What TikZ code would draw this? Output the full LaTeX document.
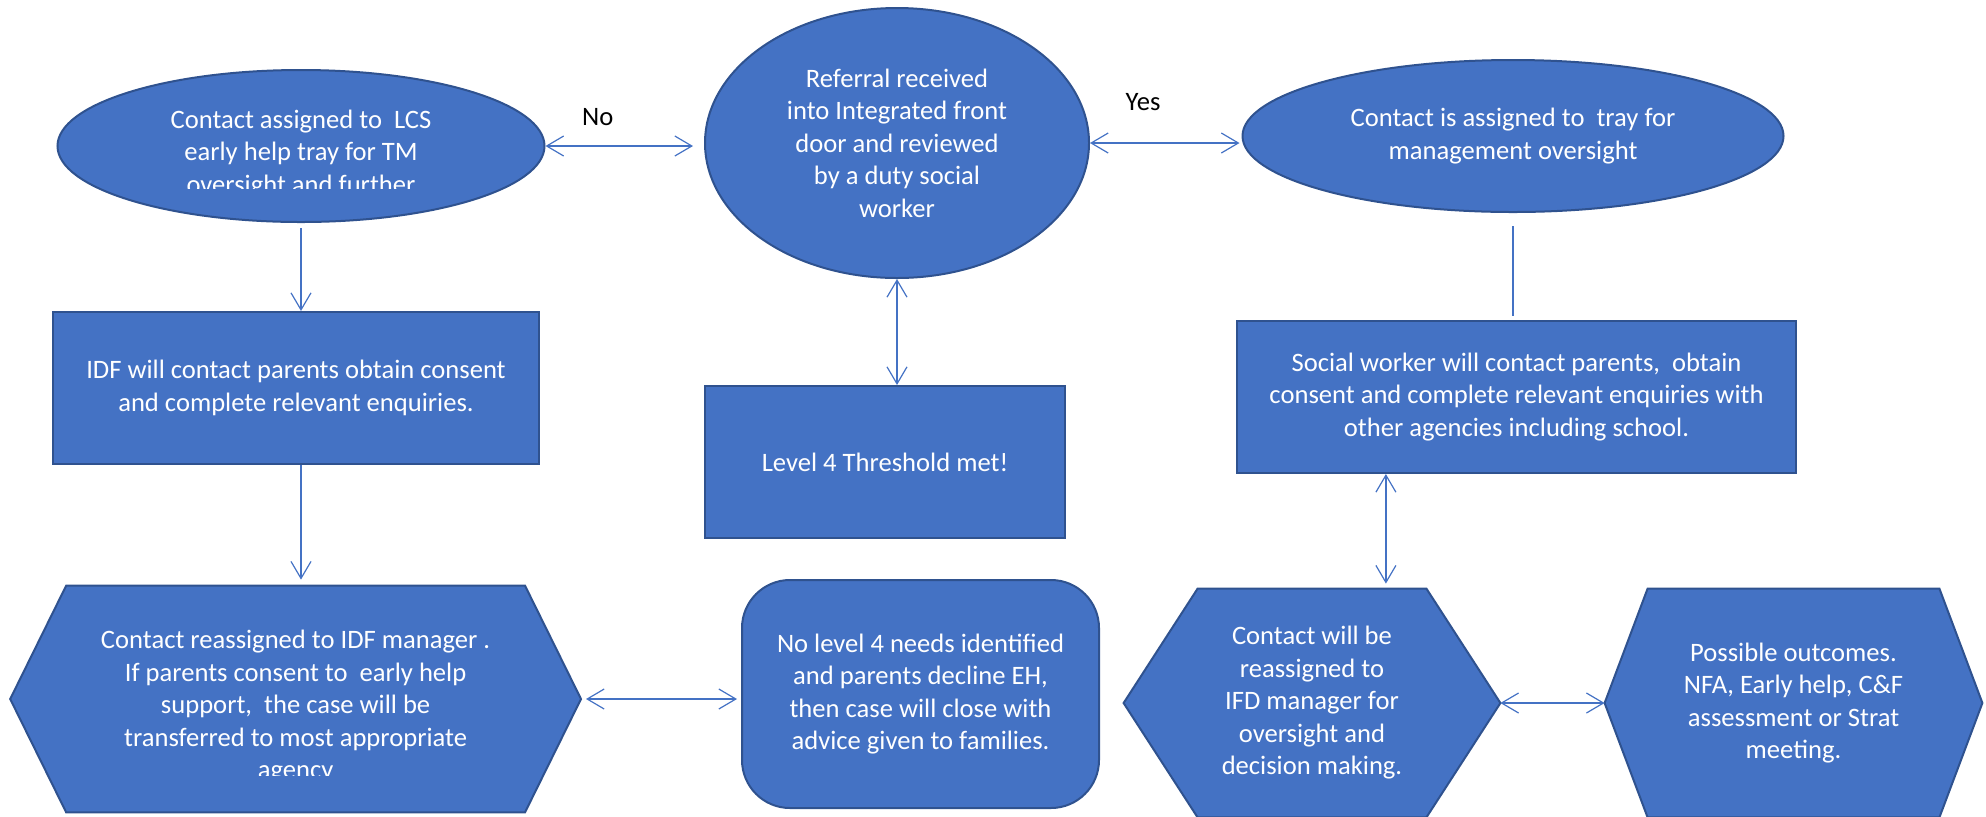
\documentclass[tikz,border=0pt]{standalone}
\usepackage{fontspec}
\setmainfont{Carlito}
\usetikzlibrary{calc,positioning,shapes.geometric,arrows.meta,backgrounds}
\definecolor{color_fill_box}{HTML}{4472C4}
\definecolor{color_edge_box}{HTML}{2F528F}
\definecolor{color_link}{HTML}{4472C4}

\tikzset{
  flowtext/.style={text=white,align=center,inner sep=0pt,font=\fontsize{13.3}{16.25}\selectfont},
  flowbox/.style={flowtext,draw=color_edge_box,line width=1pt,fill=color_fill_box},
  flowoval/.style={flowbox,ellipse},
  hexbox/.style={flowtext},
  link/.style={color_link,line width=0.6pt},
  twoway/.style={link,{Straight Barb[length=8.5pt,width=10pt]}-{Straight Barb[length=8.5pt,width=10pt]}},
  oneway/.style={link,-{Straight Barb[length=8.5pt,width=10pt]}},
  answer/.style={text=black,inner sep=0pt,font=\fontsize{13.3}{16.25}\selectfont}
}

\begin{document}
\begin{tikzpicture}[x=0.5pt,y=-0.5pt]
				\useasboundingbox (0,0) rectangle (1986,816);
				% Top row
				\node[flowoval,minimum width=243.5pt,minimum height=76pt] (lcs) at (301,146) {};
				\begin{scope}
					\clip (40,60) rectangle (560,188);
					\node[flowtext] (lcstext) at (301,154)
						{Contact assigned to\ \ LCS\\early help tray for TM\\oversight and further};
				\end{scope}
				\node[flowoval,minimum width=192pt,minimum height=135pt] (ref) at (897,143)
					{Referral received\\into Integrated front\\door and reviewed\\by a duty social\\worker};
				\node[flowoval,minimum width=270.5pt,minimum height=76pt] (mgmt) at (1513,136)
					{Contact is assigned to\ \ tray for\\management oversight};
				
				% Middle row
				\node[flowbox,minimum width=243pt,minimum height=76pt] (idf) at (296,388)
					{IDF will contact parents obtain consent\\and complete relevant enquiries.};
				\node[flowbox,minimum width=180pt,minimum height=76pt] (lvl4) at (885,462)
					{Level 4 Threshold met!};
				\node[flowbox,minimum width=279.5pt,minimum height=76pt] (social) at (1516.5,397)
					{Social worker will contact parents,\ \ obtain\\consent and complete relevant enquiries with\\other agencies including school.};
				
				% Bottom row
				\node[hexbox,minimum width=229pt,minimum height=113pt] (hexL) at (295.6,699) {};
				\node[flowbox,rounded corners=24pt,minimum width=178.5pt,minimum height=114pt] (nfa) at (920.5,694)
					{No level 4 needs identified\\and parents decline EH,\\then case will close with\\advice given to families.};
				\node[hexbox,minimum width=114pt,minimum height=114pt] (hexM) at (1312,703)
					{Contact will be\\reassigned to\\IFD manager for\\oversight and\\decision making.};
				\node[hexbox,minimum width=145.5pt,minimum height=114pt] (hexR) at (1793.5,703)
					{Possible outcomes.\\NFA, Early help, C\&F\\assessment or Strat\\meeting.};
				\begin{scope}[on background layer]
					\foreach \hex/\tip in {hexL/28pt, hexM/37pt, hexR/21.5pt} {
						\draw[flowbox] (\hex.north west) -- (\hex.north east)
							-- ($(\hex.east)+(\tip,0)$) coordinate (\hex-e)
							-- (\hex.south east) -- (\hex.south west)
							-- ($(\hex.west)+(-\tip,0)$) coordinate (\hex-w) -- cycle;
					}
				\end{scope}
				\begin{scope}
					\clip (0,560) rectangle (600,775);
					\node[flowtext] (hexLtext) at (295.6,707)
						{Contact reassigned to IDF manager .\\If parents consent to\ \ early help\\support,\ \ the case will be\\transferred to most appropriate\\agency};
				\end{scope}
				
				% Links
				\draw[twoway,shorten >=5.5pt] (lcs.east) -- (lcs.east -| ref.west)
					node[answer,pos=0.33,above=10pt] (no) {No};
				\draw[twoway,shorten >=1pt] (ref.east) -- (ref.east -| mgmt.west)
					node[answer,pos=0.35,above=16pt] (yes) {Yes};
				\draw[oneway,shorten <=2.5pt] (lcs.south) -- (lcs.south |- idf.north);
				\draw[oneway,shorten >=3pt] (idf.south -| lcs.south) -- (hexL.north -| lcs.south);
				\draw[twoway] (ref.south) -- (ref.south |- lvl4.north);
				\draw[link,shorten <=6.5pt,shorten >=2pt] (mgmt.south) -- (mgmt.south |- social.north);
				\coordinate (swlink) at ($(hexM.north east)+(-20.25pt,0)$);
				\draw[twoway,shorten >=2.5pt] (swlink |- social.south) -- (swlink);
				\draw[twoway,shorten <=2.5pt,shorten >=2pt] (hexL-e) -- (hexL-e -| nfa.west);
				\draw[twoway] (hexM-e) -- (hexR-w);
\end{tikzpicture}
\end{document}
